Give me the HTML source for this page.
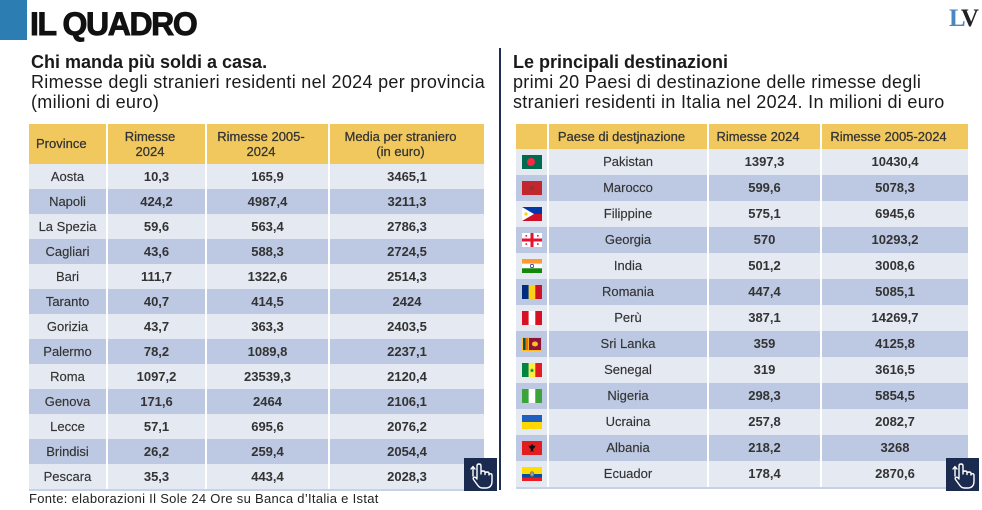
<!DOCTYPE html>
<html>
<head>
<meta charset="utf-8">
<style>
  html,body{margin:0;padding:0;}
  body{width:982px;height:510px;position:relative;overflow:hidden;background:#fff;font-family:"Liberation Sans",sans-serif;color:#2f2f2f;}
  .abs{position:absolute;}
  .title{left:30px;top:8px;font-size:32px;line-height:32px;font-weight:bold;color:#111;letter-spacing:-1.4px;white-space:nowrap;-webkit-text-stroke:0.9px #111;}
  .blue{left:0;top:0;width:27px;height:40px;background:#2c7db2;}
  .logo{left:949px;top:7px;font-family:"Liberation Serif",serif;font-weight:bold;font-size:25px;line-height:23px;letter-spacing:-2.5px;white-space:nowrap;}
  .head{font-size:18px;line-height:20px;color:#1a1a1a;white-space:nowrap;}
  .head b{letter-spacing:0px;}
  .head span{letter-spacing:0.3px;}
  .divider{left:499px;top:48px;width:2px;height:442px;background:#1f2d4f;}
  .row{position:absolute;display:flex;}
  .c{box-sizing:border-box;text-align:center;border-left:2px solid #fff;font-size:13px;white-space:nowrap;}
  .c:first-child{border-left:none;}
  .hdr .c{background:#f1c85e;color:#333;-webkit-text-stroke:0.25px #333;padding-right:13px;}
  .L{background:#e4e9f2;}
  .D{background:#bdc9e3;}
  .n{font-weight:bold;color:#333;}
  .p{color:#333;-webkit-text-stroke:0.15px #333;}
  .lt .row.body .c{height:25px;line-height:25px;}
  .rt .row.body .c{height:26px;line-height:26px;}
  .flag{display:block;margin:6px auto 0 auto;}
  .foot{left:29px;top:491px;font-size:13px;line-height:15px;letter-spacing:0.3px;color:#222;white-space:nowrap;}
  .hand{width:33px;height:33px;background:#1b2a4f;}
</style>
</head>
<body>
<div class="abs blue"></div>
<div class="abs title">IL QUADRO</div>
<div class="abs logo"><span style="color:#4a86c0">L</span><span style="color:#222">V</span></div>

<div class="abs head" style="left:31px;top:52px;">
  <b>Chi manda più soldi a casa.</b><br>
  <span>Rimesse degli stranieri residenti nel 2024 per provincia</span><br>
  <span>(milioni di euro)</span>
</div>

<div class="abs head" style="left:513px;top:52px;">
  <b>Le principali destinazioni</b><br>
  <span>primi 20 Paesi di destinazione delle rimesse degli</span><br>
  <span>stranieri residenti in Italia nel 2024. In milioni di euro</span>
</div>

<div class="abs divider"></div>

<!-- LEFT TABLE -->
<div class="lt">
  <div class="row hdr" style="left:29px;top:124px;">
    <div class="c" style="width:77px;height:40px;line-height:40px;text-align:left;padding-left:7px;padding-right:0;">Province</div>
    <div class="c" style="width:99px;height:40px;line-height:15px;padding-top:5px;">Rimesse<br>2024</div>
    <div class="c" style="width:123px;height:40px;line-height:15px;padding-top:5px;">Rimesse 2005-<br>2024</div>
    <div class="c" style="width:156px;height:40px;line-height:15px;padding-top:5px;">Media per straniero<br>(in euro)</div>
  </div>
  <div class="row body" style="left:29px;top:164px;"><div class="c L p" style="width:77px">Aosta</div><div class="c L n" style="width:99px">10,3</div><div class="c L n" style="width:123px">165,9</div><div class="c L n" style="width:156px">3465,1</div></div>
  <div class="row body" style="left:29px;top:189px;"><div class="c D p" style="width:77px">Napoli</div><div class="c D n" style="width:99px">424,2</div><div class="c D n" style="width:123px">4987,4</div><div class="c D n" style="width:156px">3211,3</div></div>
  <div class="row body" style="left:29px;top:214px;"><div class="c L p" style="width:77px">La Spezia</div><div class="c L n" style="width:99px">59,6</div><div class="c L n" style="width:123px">563,4</div><div class="c L n" style="width:156px">2786,3</div></div>
  <div class="row body" style="left:29px;top:239px;"><div class="c D p" style="width:77px">Cagliari</div><div class="c D n" style="width:99px">43,6</div><div class="c D n" style="width:123px">588,3</div><div class="c D n" style="width:156px">2724,5</div></div>
  <div class="row body" style="left:29px;top:264px;"><div class="c L p" style="width:77px">Bari</div><div class="c L n" style="width:99px">111,7</div><div class="c L n" style="width:123px">1322,6</div><div class="c L n" style="width:156px">2514,3</div></div>
  <div class="row body" style="left:29px;top:289px;"><div class="c D p" style="width:77px">Taranto</div><div class="c D n" style="width:99px">40,7</div><div class="c D n" style="width:123px">414,5</div><div class="c D n" style="width:156px">2424</div></div>
  <div class="row body" style="left:29px;top:314px;"><div class="c L p" style="width:77px">Gorizia</div><div class="c L n" style="width:99px">43,7</div><div class="c L n" style="width:123px">363,3</div><div class="c L n" style="width:156px">2403,5</div></div>
  <div class="row body" style="left:29px;top:339px;"><div class="c D p" style="width:77px">Palermo</div><div class="c D n" style="width:99px">78,2</div><div class="c D n" style="width:123px">1089,8</div><div class="c D n" style="width:156px">2237,1</div></div>
  <div class="row body" style="left:29px;top:364px;"><div class="c L p" style="width:77px">Roma</div><div class="c L n" style="width:99px">1097,2</div><div class="c L n" style="width:123px">23539,3</div><div class="c L n" style="width:156px">2120,4</div></div>
  <div class="row body" style="left:29px;top:389px;"><div class="c D p" style="width:77px">Genova</div><div class="c D n" style="width:99px">171,6</div><div class="c D n" style="width:123px">2464</div><div class="c D n" style="width:156px">2106,1</div></div>
  <div class="row body" style="left:29px;top:414px;"><div class="c L p" style="width:77px">Lecce</div><div class="c L n" style="width:99px">57,1</div><div class="c L n" style="width:123px">695,6</div><div class="c L n" style="width:156px">2076,2</div></div>
  <div class="row body" style="left:29px;top:439px;"><div class="c D p" style="width:77px">Brindisi</div><div class="c D n" style="width:99px">26,2</div><div class="c D n" style="width:123px">259,4</div><div class="c D n" style="width:156px">2054,4</div></div>
  <div class="row body" style="left:29px;top:464px;"><div class="c L p" style="width:77px">Pescara</div><div class="c L n" style="width:99px">35,3</div><div class="c L n" style="width:123px">443,4</div><div class="c L n" style="width:156px">2028,3</div></div>
  <div class="abs" style="left:29px;top:489px;width:455px;height:2px;background:#c7d1e7;"></div>
</div>

<!-- RIGHT TABLE -->
<div class="rt">
  <div class="row hdr" style="left:516px;top:124px;">
    <div class="c" style="width:31px;height:25px;"></div>
    <div class="c" style="width:160px;height:25px;line-height:25px;">Paese di destjnazione</div>
    <div class="c" style="width:113px;height:25px;line-height:25px;">Rimesse 2024</div>
    <div class="c" style="width:148px;height:25px;line-height:25px;">Rimesse 2005-2024</div>
  </div>

  <div class="row body" style="left:516px;top:149px;">
    <div class="c L" style="width:31px"><svg class="flag" width="20" height="14" viewBox="0 0 20 14"><rect width="20" height="14" fill="#006a4e"/><circle cx="9" cy="7" r="4" fill="#f42a41"/></svg></div>
    <div class="c L p" style="width:160px">Pakistan</div><div class="c L n" style="width:113px">1397,3</div><div class="c L n" style="width:148px">10430,4</div></div>
  <div class="row body" style="left:516px;top:175px;">
    <div class="c D" style="width:31px"><svg class="flag" width="20" height="14" viewBox="0 0 20 14"><rect width="20" height="14" fill="#c1272d"/><polygon points="10,5 10.6,6.6 12.2,6.6 10.9,7.6 11.4,9.2 10,8.2 8.6,9.2 9.1,7.6 7.8,6.6 9.4,6.6" fill="none" stroke="#1f5f2f" stroke-width="0.5"/></svg></div>
    <div class="c D p" style="width:160px">Marocco</div><div class="c D n" style="width:113px">599,6</div><div class="c D n" style="width:148px">5078,3</div></div>
  <div class="row body" style="left:516px;top:201px;">
    <div class="c L" style="width:31px"><svg class="flag" width="20" height="14" viewBox="0 0 20 14"><rect width="20" height="7" fill="#0038a8"/><rect y="7" width="20" height="7" fill="#ce1126"/><polygon points="0,0 12,7 0,14" fill="#fff"/><circle cx="4" cy="7" r="1.6" fill="#fcd116"/></svg></div>
    <div class="c L p" style="width:160px">Filippine</div><div class="c L n" style="width:113px">575,1</div><div class="c L n" style="width:148px">6945,6</div></div>
  <div class="row body" style="left:516px;top:227px;">
    <div class="c D" style="width:31px"><svg class="flag" width="20" height="14" viewBox="0 0 20 14"><rect width="20" height="14" fill="#fff"/><rect x="8.5" width="3" height="14" fill="#e8112d"/><rect y="5.5" width="20" height="3" fill="#e8112d"/><rect x="3.5" y="2" width="1.6" height="1.6" fill="#e8112d"/><rect x="15" y="2" width="1.6" height="1.6" fill="#e8112d"/><rect x="3.5" y="10.3" width="1.6" height="1.6" fill="#e8112d"/><rect x="15" y="10.3" width="1.6" height="1.6" fill="#e8112d"/></svg></div>
    <div class="c D p" style="width:160px">Georgia</div><div class="c D n" style="width:113px">570</div><div class="c D n" style="width:148px">10293,2</div></div>
  <div class="row body" style="left:516px;top:253px;">
    <div class="c L" style="width:31px"><svg class="flag" width="20" height="14" viewBox="0 0 20 14"><rect width="20" height="4.7" fill="#ff9933"/><rect y="4.7" width="20" height="4.6" fill="#fff"/><rect y="9.3" width="20" height="4.7" fill="#138808"/><circle cx="10" cy="7" r="1.7" fill="none" stroke="#000080" stroke-width="0.6"/></svg></div>
    <div class="c L p" style="width:160px">India</div><div class="c L n" style="width:113px">501,2</div><div class="c L n" style="width:148px">3008,6</div></div>
  <div class="row body" style="left:516px;top:279px;">
    <div class="c D" style="width:31px"><svg class="flag" width="20" height="14" viewBox="0 0 20 14"><rect width="6.7" height="14" fill="#002b7f"/><rect x="6.7" width="6.6" height="14" fill="#fcd116"/><rect x="13.3" width="6.7" height="14" fill="#ce1126"/></svg></div>
    <div class="c D p" style="width:160px">Romania</div><div class="c D n" style="width:113px">447,4</div><div class="c D n" style="width:148px">5085,1</div></div>
  <div class="row body" style="left:516px;top:305px;">
    <div class="c L" style="width:31px"><svg class="flag" width="20" height="14" viewBox="0 0 20 14"><rect width="6.7" height="14" fill="#d91023"/><rect x="6.7" width="6.6" height="14" fill="#fff"/><rect x="13.3" width="6.7" height="14" fill="#d91023"/></svg></div>
    <div class="c L p" style="width:160px">Perù</div><div class="c L n" style="width:113px">387,1</div><div class="c L n" style="width:148px">14269,7</div></div>
  <div class="row body" style="left:516px;top:331px;">
    <div class="c D" style="width:31px"><svg class="flag" width="20" height="14" viewBox="0 0 20 14"><rect width="20" height="14" fill="#ffbe29"/><rect x="1" y="1" width="2.6" height="12" fill="#00534e"/><rect x="3.6" y="1" width="2.6" height="12" fill="#eb7400"/><rect x="7" y="1" width="12" height="12" fill="#8d153a"/><ellipse cx="13" cy="7" rx="3" ry="2.5" fill="#ffbe29"/></svg></div>
    <div class="c D p" style="width:160px">Sri Lanka</div><div class="c D n" style="width:113px">359</div><div class="c D n" style="width:148px">4125,8</div></div>
  <div class="row body" style="left:516px;top:357px;">
    <div class="c L" style="width:31px"><svg class="flag" width="20" height="14" viewBox="0 0 20 14"><rect width="6.7" height="14" fill="#00853f"/><rect x="6.7" width="6.6" height="14" fill="#fdef42"/><rect x="13.3" width="6.7" height="14" fill="#e31b23"/><polygon points="10,5 10.7,6.7 12.4,6.7 11,7.7 11.5,9.4 10,8.4 8.5,9.4 9,7.7 7.6,6.7 9.3,6.7" fill="#00853f"/></svg></div>
    <div class="c L p" style="width:160px">Senegal</div><div class="c L n" style="width:113px">319</div><div class="c L n" style="width:148px">3616,5</div></div>
  <div class="row body" style="left:516px;top:383px;">
    <div class="c D" style="width:31px"><svg class="flag" width="20" height="14" viewBox="0 0 20 14"><rect width="6.7" height="14" fill="#3aa33a"/><rect x="6.7" width="6.6" height="14" fill="#fff"/><rect x="13.3" width="6.7" height="14" fill="#3aa33a"/></svg></div>
    <div class="c D p" style="width:160px">Nigeria</div><div class="c D n" style="width:113px">298,3</div><div class="c D n" style="width:148px">5854,5</div></div>
  <div class="row body" style="left:516px;top:409px;">
    <div class="c L" style="width:31px"><svg class="flag" width="20" height="14" viewBox="0 0 20 14"><rect width="20" height="7" fill="#1f5fc0"/><rect y="7" width="20" height="7" fill="#ffd700"/></svg></div>
    <div class="c L p" style="width:160px">Ucraina</div><div class="c L n" style="width:113px">257,8</div><div class="c L n" style="width:148px">2082,7</div></div>
  <div class="row body" style="left:516px;top:435px;">
    <div class="c D" style="width:31px"><svg class="flag" width="20" height="14" viewBox="0 0 20 14"><rect width="20" height="14" fill="#e41e20"/><path d="M10,3 L12,5 L13.5,4.5 L12.5,7 L11,8 L11.5,11 L10,10 L8.5,11 L9,8 L7.5,7 L6.5,4.5 L8,5 Z" fill="#111"/></svg></div>
    <div class="c D p" style="width:160px">Albania</div><div class="c D n" style="width:113px">218,2</div><div class="c D n" style="width:148px">3268</div></div>
  <div class="row body" style="left:516px;top:461px;">
    <div class="c L" style="width:31px"><svg class="flag" width="20" height="14" viewBox="0 0 20 14"><rect width="20" height="7" fill="#ffdd00"/><rect y="7" width="20" height="3.5" fill="#034ea2"/><rect y="10.5" width="20" height="3.5" fill="#ed1c24"/><ellipse cx="10" cy="7" rx="2.2" ry="2.8" fill="#a0703a"/><ellipse cx="10" cy="7" rx="1.2" ry="1.6" fill="#6fb0d8"/></svg></div>
    <div class="c L p" style="width:160px">Ecuador</div><div class="c L n" style="width:113px">178,4</div><div class="c L n" style="width:148px">2870,6</div></div>
  <div class="abs" style="left:516px;top:487px;width:452px;height:2px;background:#c7d1e7;"></div>
</div>

<!-- hand icons -->
<div class="abs hand" style="left:464px;top:458px;">
  <svg width="33" height="33" viewBox="0 0 33 33" fill="none" stroke="#fff" stroke-width="1.4" stroke-linecap="round" stroke-linejoin="round">
    <path d="M9,18 L9,9 M7,11 L9,8.5 L11,11"/>
    <path d="M13,20 L13,8 Q13,6 15,6 Q17,6 17,8 L17,16 L17,14.5 Q17,13 19,13 Q21,13 21,14.5 L21,16.5 L21,15.5 Q21,14 23,14 Q25,14 25,15.5 L25,17 Q25,15.7 26.5,15.7 Q28,15.7 28,17.5 L28,23 Q28,30 21.5,30 L18.5,30 Q15.5,30 13.5,27 L9.5,21.5 Q8.5,19.5 10.3,19.2 Q11.7,19 13,21"/>
  </svg>
</div>
<div class="abs hand" style="left:946px;top:458px;">
  <svg width="33" height="33" viewBox="0 0 33 33" fill="none" stroke="#fff" stroke-width="1.4" stroke-linecap="round" stroke-linejoin="round">
    <path d="M9,18 L9,9 M7,11 L9,8.5 L11,11"/>
    <path d="M13,20 L13,8 Q13,6 15,6 Q17,6 17,8 L17,16 L17,14.5 Q17,13 19,13 Q21,13 21,14.5 L21,16.5 L21,15.5 Q21,14 23,14 Q25,14 25,15.5 L25,17 Q25,15.7 26.5,15.7 Q28,15.7 28,17.5 L28,23 Q28,30 21.5,30 L18.5,30 Q15.5,30 13.5,27 L9.5,21.5 Q8.5,19.5 10.3,19.2 Q11.7,19 13,21"/>
  </svg>
</div>

<div class="abs foot">Fonte: elaborazioni Il Sole 24 Ore su Banca d’Italia e Istat</div>
</body>
</html>
